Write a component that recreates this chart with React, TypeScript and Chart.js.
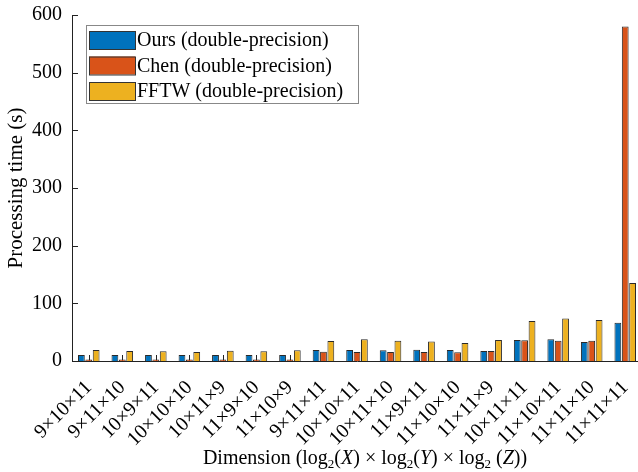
import React, { useEffect, useRef } from "react";
import { Chart, registerables } from "chart.js";

Chart.register(...registerables);

const categories = [
  "9×10×11", "9×11×10", "10×9×11", "10×10×10", "10×11×9", "11×9×10", "11×10×9",
  "9×11×11", "10×10×11", "10×11×10", "11×9×11", "11×10×10", "11×11×9",
  "10×11×11", "11×10×11", "11×11×10", "11×11×11",
];
const oursValues = [10.4, 10.4, 10.4, 10.4, 10.4, 10.4, 10.4, 19.1, 19.1, 18.5, 19.7, 19.1, 17.4, 36.5, 37.6, 33, 66.5];
const chenValues = [2.5, 2.5, 2.5, 2.5, 2.5, 2.5, 2.5, 16.2, 15.6, 15.6, 15.6, 15, 17.4, 36, 35.3, 35.3, 580];
const fftwValues = [19, 17.4, 16.7, 15.6, 17.9, 16.7, 18.5, 34.7, 37.6, 35.3, 33.6, 31.2, 36.5, 69.4, 73.5, 71.2, 135.4];
const seriesLabels = ["Ours (double-precision)", "Chen (double-precision)", "FFTW (double-precision)"];
const seriesColors = ["#0072BD", "#D95319", "#EDB120"];
const yTicks = [0, 100, 200, 300, 400, 500, 600];
const yTitle = "Processing time (s)";
// x-axis title pieces: [text, style] where style: n = normal, s = subscript, i = italic
const xTitleParts: [string, string][] = [
  ["Dimension (log", "n"], ["2", "s"], ["(", "n"], ["X", "i"], [") × log", "n"], ["2", "s"],
  ["(", "n"], ["Y", "i"], [") × log", "n"], ["2", "s"], [" (", "n"], ["Z", "i"], ["))", "n"],
];

const FONT = "'Liberation Serif', 'Times New Roman', serif";

const tickMarks = {
  id: "tickMarks",
  beforeDatasetsDraw(chart: any) {
    const { ctx, chartArea, scales } = chart;
    ctx.save();
    ctx.strokeStyle = "#222";
    ctx.lineWidth = 1;
    const x = scales.x;
    for (let i = 0; i < categories.length; i++) {
      const px = Math.round(x.getPixelForTick(i)) + 0.5;
      ctx.beginPath();
      ctx.moveTo(px, chartArea.bottom);
      ctx.lineTo(px, chartArea.bottom - 6);
      ctx.stroke();
    }
    const y = scales.y;
    for (const v of yTicks) {
      const py = Math.round(y.getPixelForValue(v)) + 0.5;
      ctx.beginPath();
      ctx.moveTo(chartArea.left, py);
      ctx.lineTo(chartArea.left + 6, py);
      ctx.stroke();
    }
    ctx.restore();
  },
};

const xTitle = {
  id: "xTitle",
  afterDraw(chart: any) {
    const { ctx } = chart;
    const fontFor = (st: string) =>
      st === "s" ? `13px ${FONT}` : st === "i" ? `italic 20px ${FONT}` : `20px ${FONT}`;
    ctx.save();
    ctx.fillStyle = "#000";
    ctx.textBaseline = "alphabetic";
    let total = 0;
    for (const [t, st] of xTitleParts) {
      ctx.font = fontFor(st);
      total += ctx.measureText(t).width;
    }
    let x = 365 - total / 2;
    const base = 464;
    for (const [t, st] of xTitleParts) {
      ctx.font = fontFor(st);
      ctx.fillText(t, x, st === "s" ? base + 4 : base);
      x += ctx.measureText(t).width;
    }
    ctx.restore();
  },
};

const boxLegend = {
  id: "boxLegend",
  afterDraw(chart: any) {
    const { ctx, chartArea } = chart;
    const left = chartArea.left + 14;
    const top = chartArea.top + 10;
    const w = 272;
    const h = 78;
    ctx.save();
    ctx.fillStyle = "#fff";
    ctx.fillRect(left, top, w, h);
    ctx.strokeStyle = "#888";
    ctx.lineWidth = 1;
    ctx.strokeRect(left + 0.5, top + 0.5, w, h);
    ctx.font = `20px ${FONT}`;
    ctx.textBaseline = "middle";
    chart.data.datasets.forEach((ds: any, i: number) => {
      const cy = top + 15 + i * 25.5;
      ctx.fillStyle = ds.backgroundColor;
      ctx.fillRect(left + 3, cy - 9, 46, 18);
      ctx.strokeStyle = "#333";
      ctx.strokeRect(left + 3.5, cy - 8.5, 46, 18);
      ctx.fillStyle = "#000";
      ctx.fillText(ds.label, left + 51, cy + 1);
    });
    ctx.restore();
  },
};

export default function App() {
  const ref = useRef<HTMLCanvasElement>(null);
  useEffect(() => {
    if (!ref.current) return;
    const dataSets = [oursValues, chenValues, fftwValues].map((vals, i) => ({
      label: seriesLabels[i],
      data: vals,
      backgroundColor: seriesColors[i],
      borderColor: "#2a2a2a",
      borderWidth: 1,
      categoryPercentage: 0.66,
      barPercentage: 0.92,
    }));
    const chart = new Chart(ref.current, {
      type: "bar",
      data: { labels: categories, datasets: dataSets },
      plugins: [tickMarks, boxLegend, xTitle],
      options: {
        responsive: false,
        animation: false,
        layout: { padding: { top: 15, right: 0, left: 0, bottom: 0 } },
        plugins: { legend: { display: false }, tooltip: { enabled: false } },
        scales: {
          x: {
            grid: { display: false, drawTicks: false },
            border: { display: true, color: "#222", width: 1 },
            ticks: {
              autoSkip: false,
              maxRotation: 45,
              minRotation: 45,
              color: "#000",
              font: { family: FONT, size: 20 },
              padding: 15,
            },
            afterFit: (s: any) => { s.height = 111; s.paddingLeft = 0; s.paddingRight = 0; },
          },
          y: {
            min: 0,
            max: 600,
            grid: { display: false, drawTicks: false },
            border: { display: true, color: "#222", width: 1 },
            ticks: {
              stepSize: 100,
              color: "#000",
              font: { family: FONT, size: 20 },
              padding: 10,
            },
            title: {
              display: true,
              text: yTitle,
              color: "#000",
              font: { family: FONT, size: 21 },
              padding: { top: 4, bottom: 0 },
            },
            afterFit: (s: any) => { s.width = 72; s.paddingTop = 0; s.paddingBottom = 0; },
          },
        },
      },
    });
    return () => chart.destroy();
  }, []);
  return (
    <div style={{ position: "fixed", left: 0, top: 0, width: 638, height: 472, overflow: "hidden", background: "#fff" }}>
      <canvas ref={ref} width={642} height={472} style={{ width: 642, height: 472, display: "block" }} />
    </div>
  );
}
